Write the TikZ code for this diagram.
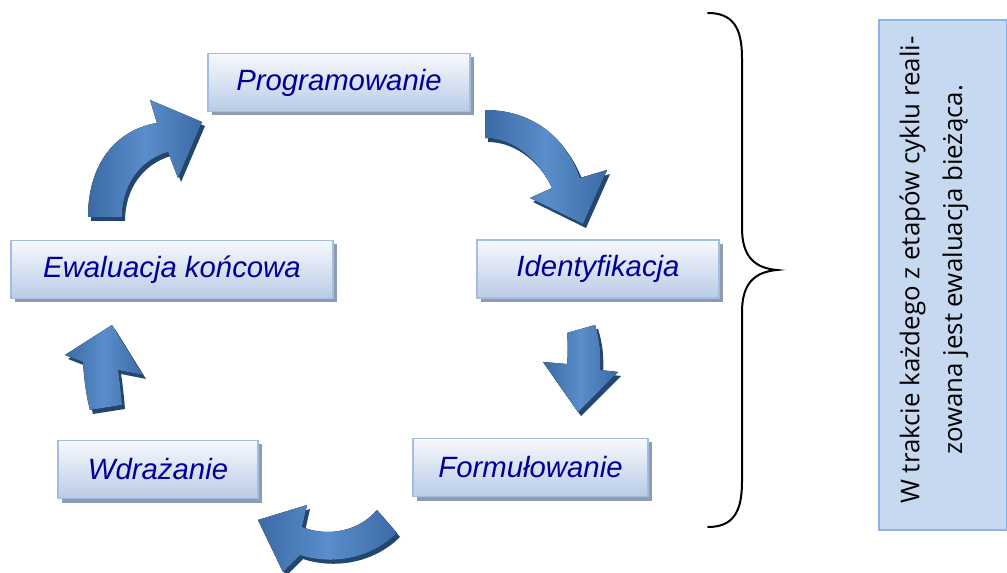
\documentclass[tikz,border=0pt]{standalone}
\usepackage{fontspec}
\usetikzlibrary{shadows}
\newfontfamily\boxfont{Liberation Sans}
\newfontfamily\sidefont{Open Sans}
\definecolor{boxtop}{HTML}{F7F9FD}
\definecolor{boxbot}{HTML}{B9CBE6}
\definecolor{boxline}{HTML}{A3BEE2}
\definecolor{boxshadow}{HTML}{8E9CB2}
\definecolor{txtblue}{HTML}{000099}
\definecolor{arrA}{HTML}{3B6BA5}
\definecolor{arrB}{HTML}{5A8DCB}
\definecolor{arrShadow}{HTML}{23466F}
\definecolor{sidefill}{HTML}{C6D9F0}
\definecolor{sideline}{HTML}{8DB3E2}
\tikzset{
  stagebox/.style={draw=boxline, line width=1.2pt, top color=boxtop, bottom color=boxbot,
    drop shadow={shadow xshift=3pt, shadow yshift=-3pt, fill=boxshadow, opacity=1},
    minimum height=43.5pt, inner sep=0pt,
    font=\boxfont\itshape\fontsize{22}{26}\selectfont, text=txtblue},
  arrowbody/.style={left color=arrA, right color=arrA, middle color=arrB},
  arrowshadow/.style={fill=arrShadow},
}
\begin{document}
\begin{tikzpicture}[x=0.75pt,y=-0.75pt]
\useasboundingbox (0,0) rectangle (1007,573);

% stage boxes
\node[stagebox, minimum width=196.5pt] (prog)  at (339,82.5)  {Programowanie};
\node[stagebox, minimum width=181.5pt] (ident) at (598,269)   {Identyfikacja};
\node[stagebox, minimum width=241.5pt] (ewal)  at (172,269.5) {Ewaluacja końcowa};
\node[stagebox, minimum width=150pt]   (wdr)   at (158,469.5) {Wdrażanie};
\node[stagebox, minimum width=176.25pt](form)  at (530.5,467.5) {Formułowanie};

% arrow shadows
\begin{scope}[shift={(3,4)}]
\fill[arrowshadow] (88,217) .. controls (88,165) and (115,130) .. (157,123) -- (150,100) -- (202,122) -- (178,178) -- (168,152) .. controls (140,160) and (122,185) .. (122,217) -- cycle;
\fill[arrowshadow] (485,110) .. controls (530,110) and (565,135) .. (580,178) -- (607,170) -- (583,224) -- (530,198) -- (552,188) .. controls (540,162) and (515,138) .. (485,138) -- cycle;
\fill[arrowshadow] (567,333) -- (595,325) .. controls (600,340) and (601,355) .. (600,370) -- (618,372) -- (578,412) -- (543,362) -- (567,364) .. controls (568,355) and (568,343) .. (567,333) -- cycle;
\fill[arrowshadow] (377,510) -- (397,533) .. controls (370,560) and (330,565) .. (300,555) -- (283,572) -- (258,520) -- (307,505) -- (302,527) .. controls (330,538) and (360,530) .. (377,510) -- cycle;
\fill[arrowshadow] (90,410) .. controls (86,395) and (84,378) .. (83,362) -- (65,355) -- (112,325) -- (143,375) -- (118,370) .. controls (120,382) and (121,394) .. (122,405) -- cycle;
\end{scope}

% arrows
\fill[arrowbody] (88,217) .. controls (88,165) and (115,130) .. (157,123) -- (150,100) -- (202,122) -- (178,178) -- (168,152) .. controls (140,160) and (122,185) .. (122,217) -- cycle;
\fill[arrowbody] (485,110) .. controls (530,110) and (565,135) .. (580,178) -- (607,170) -- (583,224) -- (530,198) -- (552,188) .. controls (540,162) and (515,138) .. (485,138) -- cycle;
\fill[arrowbody] (567,333) -- (595,325) .. controls (600,340) and (601,355) .. (600,370) -- (618,372) -- (578,412) -- (543,362) -- (567,364) .. controls (568,355) and (568,343) .. (567,333) -- cycle;
\fill[arrowbody] (377,510) -- (397,533) .. controls (370,560) and (330,565) .. (300,555) -- (283,572) -- (258,520) -- (307,505) -- (302,527) .. controls (330,538) and (360,530) .. (377,510) -- cycle;
\fill[arrowbody] (90,410) .. controls (86,395) and (84,378) .. (83,362) -- (65,355) -- (112,325) -- (143,375) -- (118,370) .. controls (120,382) and (121,394) .. (122,405) -- cycle;

% brace
\draw[line width=1.5pt, line cap=round] (708,13) .. controls (733,13) and (742,28) .. (742,58) -- (742,228) .. controls (742,256) and (754,268) .. (777,270) .. controls (754,272) and (742,284) .. (742,312) -- (742,482) .. controls (742,512) and (733,527) .. (708,527);

% side note
\node[draw=sideline, fill=sidefill, line width=1.5pt, minimum width=382.5pt, minimum height=96pt, rotate=90, inner sep=0pt] (sidebox) at (942.5,275) {};
\node[rotate=90, align=center, font=\sidefont\fontsize{19.4}{32}\selectfont, inner sep=0pt] (sidetext) at (934,270)
  {W trakcie każdego z etapów cyklu reali-\\zowana jest ewaluacja bieżąca.};
\end{tikzpicture}
\end{document}
